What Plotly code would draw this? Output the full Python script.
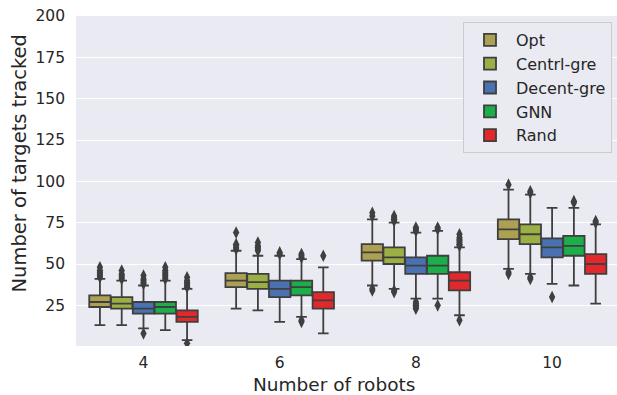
import plotly.graph_objects as go

# ---- data ----
robots = ["4", "6", "8", "10"]
methods = ["Opt", "Centrl-gre", "Decent-gre", "GNN", "Rand"]
colors = ["#ADA052", "#9BAF45", "#4A72B0", "#1CAE4A", "#E2282A"]

q1 = {
    "Opt":        [24, 36, 52, 65],
    "Centrl-gre": [23, 35, 50, 62],
    "Decent-gre": [20, 30, 44, 54],
    "GNN":        [20, 31, 44, 55],
    "Rand":       [15, 23, 34, 44],
}
median = {
    "Opt":        [27, 40, 57, 71],
    "Centrl-gre": [26, 39, 54, 68],
    "Decent-gre": [23, 35, 49, 60],
    "GNN":        [24, 36, 49, 61],
    "Rand":       [18, 28, 40, 50],
}
q3 = {
    "Opt":        [31, 44.5, 62, 77],
    "Centrl-gre": [30, 44, 60, 74],
    "Decent-gre": [27, 40, 54, 65.5],
    "GNN":        [27, 40, 55, 67],
    "Rand":       [22, 33, 45, 56],
}
lower = {
    "Opt":        [13, 23, 37, 47],
    "Centrl-gre": [13, 22, 35, 44],
    "Decent-gre": [11, 15, 29, 38],
    "GNN":        [10, 18, 29, 37],
    "Rand":       [4, 8, 19, 26],
}
upper = {
    "Opt":        [41, 58, 77, 95],
    "Centrl-gre": [40, 55, 75, 92],
    "Decent-gre": [37, 55, 69, 84],
    "GNN":        [40, 53, 70, 84],
    "Rand":       [35, 48, 60, 74],
}
outliers = {
    "Opt":        [[42, 43, 44, 45, 46, 48], [59, 60, 61, 62, 69], [79, 81, 34, 35], [98, 44, 45]],
    "Centrl-gre": [[41, 42, 43, 44, 46], [58, 59, 60, 61, 63], [76, 77, 78, 79, 33, 34], [93, 94, 41, 42]],
    "Decent-gre": [[38, 39, 40, 41, 43, 8], [56, 57], [70, 71, 72, 23, 24, 25, 26, 27], [30]],
    "GNN":        [[41, 42, 43, 44, 45, 46, 48], [54, 55, 56, 15, 16], [71, 72, 25], [87, 88]],
    "Rand":       [[36, 37, 38, 39, 40, 42, 2], [55], [61, 62, 63, 64, 65, 66, 68, 16], [75, 76]],
}

# ---- layout helpers ----
n_hue = len(methods)
group_width = 0.8
box_w = group_width / n_hue
offsets = [(-group_width / 2 + box_w / 2 + k * box_w) for k in range(n_hue)]

fig = go.Figure()
edge = "#3f3f3f"
for k, m in enumerate(methods):
    xs = [i + offsets[k] for i in range(len(robots))]
    fig.add_trace(go.Box(
        x=xs, q1=q1[m], median=median[m], q3=q3[m],
        lowerfence=lower[m], upperfence=upper[m],
        width=box_w * 0.98, whiskerwidth=0.5,
        fillcolor=colors[k], line=dict(color=edge, width=1.8),
        name=m, boxpoints=False,
    ))
for k, m in enumerate(methods):
    ox, oy = [], []
    for i in range(len(robots)):
        for v in outliers[m][i]:
            ox.append(i + offsets[k])
            oy.append(v)
    fig.add_trace(go.Scatter(
        x=ox, y=oy, mode="markers", showlegend=False, hoverinfo="skip",
        marker=dict(symbol="diamond-tall", size=9, color=edge, line=dict(width=0)),
    ))

W, H = 617, 395
ml, mr, mt, mb = 76, 0, 16, 49
fig.update_layout(
    width=W, height=H,
    margin=dict(l=ml, r=mr, t=mt, b=mb),
    paper_bgcolor="white", plot_bgcolor="#EAEAF2",
    font=dict(family="DejaVu Sans", size=15.5, color="#262626"),
    boxmode="overlay",
    showlegend=True,
    legend=dict(
        x=(612 - ml) / (W - ml - mr), y=1 - (22 - mt) / (H - mt - mb),
        xanchor="right", yanchor="top", itemwidth=42,
        bgcolor="#EAEAF2", bordercolor="#CCCCCC", borderwidth=1,
        font=dict(size=16, family="DejaVu Sans", color="#262626"),
    ),
    xaxis=dict(
        range=[-0.4956, 3.4765],
        tickvals=list(range(len(robots))), ticktext=robots,
        showgrid=False, zeroline=False, ticks="", ticklabelstandoff=5,
    ),
    yaxis=dict(
        range=[0.4, 200], tickvals=[25, 50, 75, 100, 125, 150, 175, 200],
        showgrid=True, gridcolor="white", gridwidth=1.2, zeroline=False,
        ticks="", ticklabelstandoff=10,
    ),
    annotations=[
        dict(text="Number of robots", xref="paper", yref="paper",
             x=(334 - ml) / (W - ml - mr), y=-(384 - (H - mb)) / (H - mt - mb),
             xanchor="center", yanchor="middle", showarrow=False,
             font=dict(size=18.5, family="DejaVu Sans", color="#262626")),
        dict(text="Number of targets tracked", xref="paper", yref="paper",
             x=-(ml - 18.5) / (W - ml - mr), y=1 - (164 - mt) / (H - mt - mb),
             xanchor="center", yanchor="middle", textangle=-90, showarrow=False,
             font=dict(size=19.5, family="DejaVu Sans", color="#262626")),
    ],
)
fig.write_html(
    "out.html",
    config={"displayModeBar": False},
    post_script="document.body.style.margin='0px';document.body.style.padding='0px';document.body.style.overflow='hidden';",
)
